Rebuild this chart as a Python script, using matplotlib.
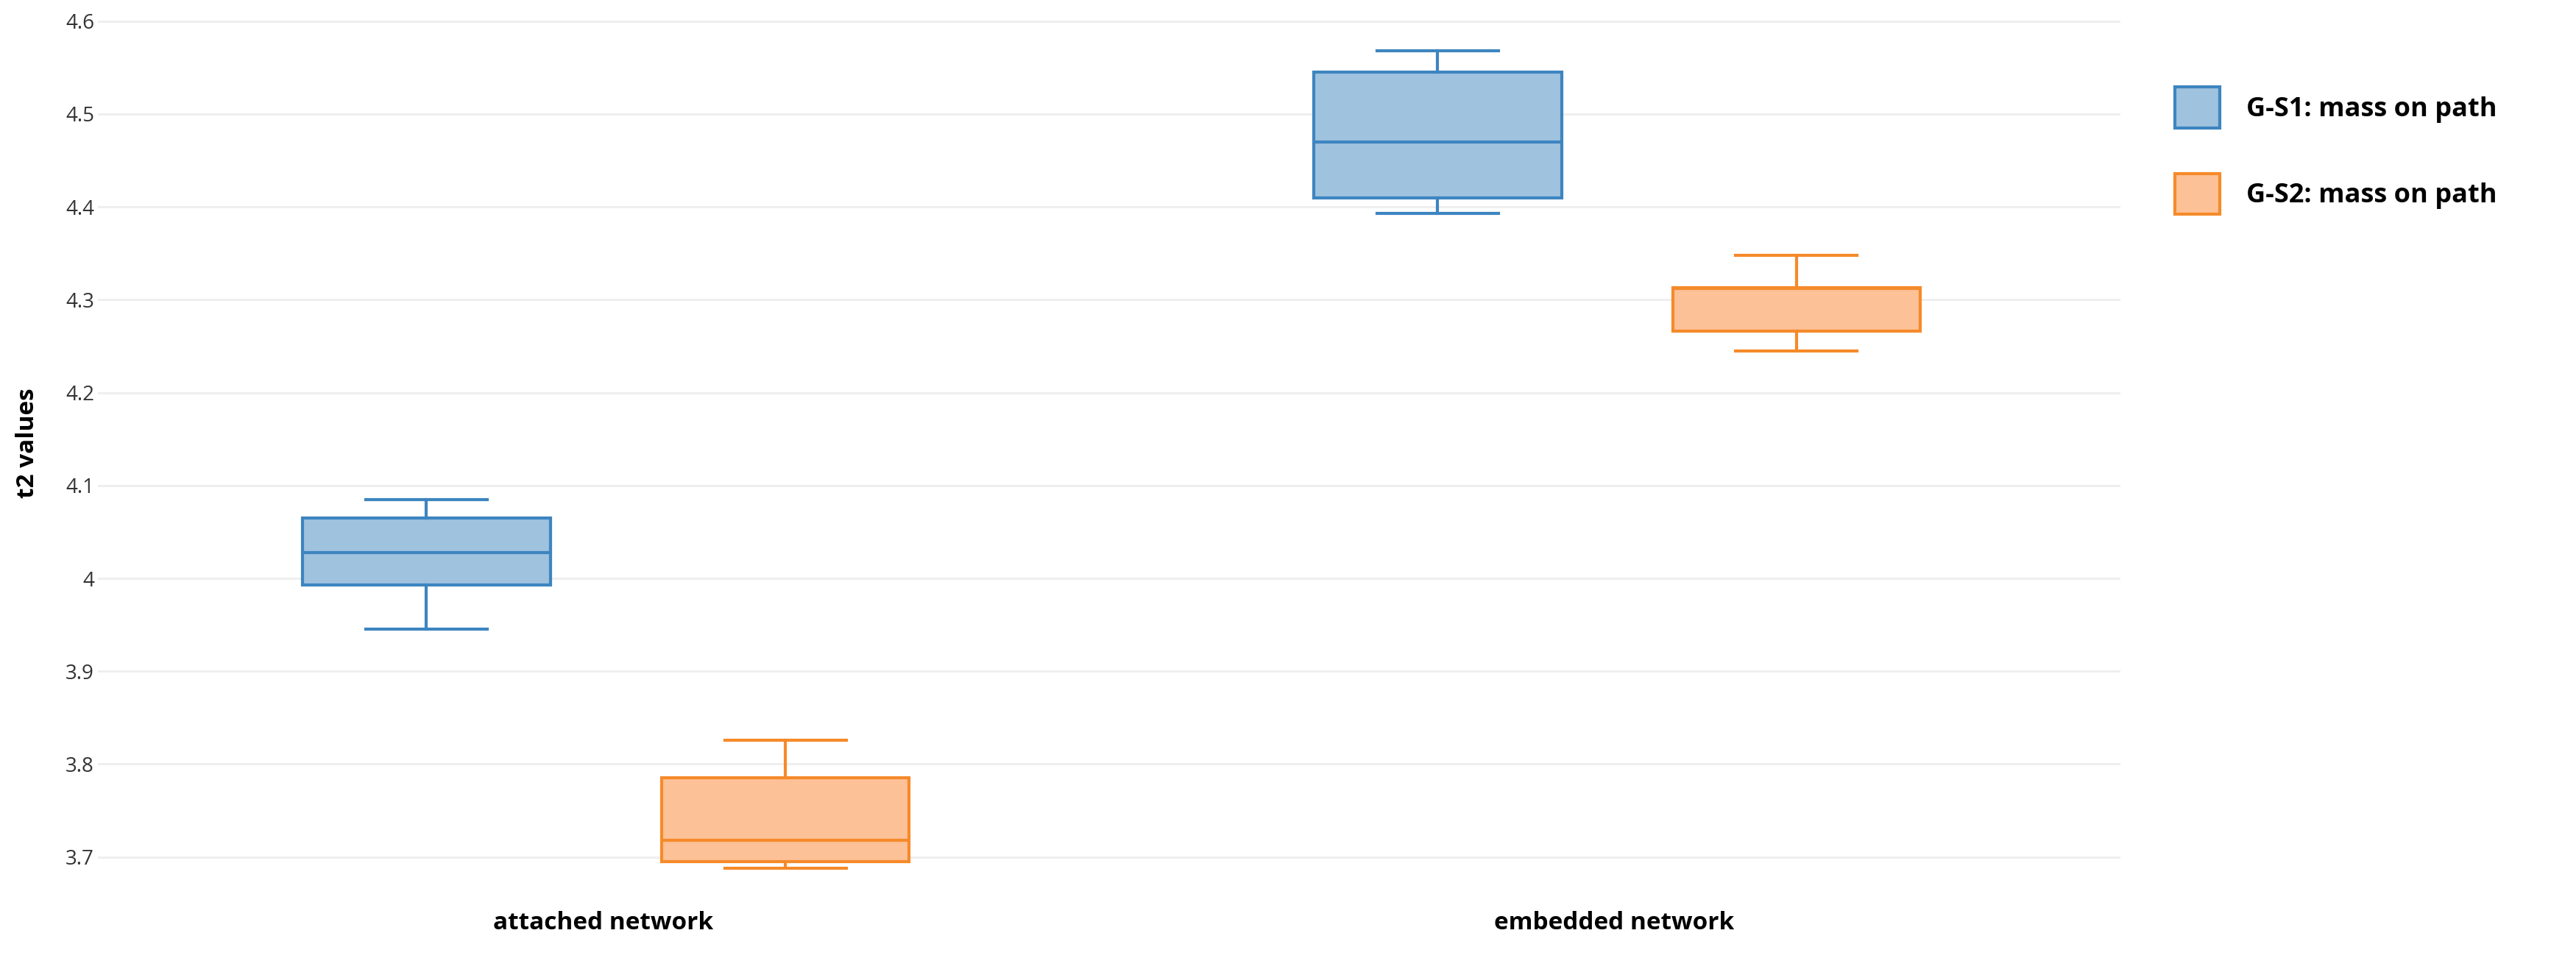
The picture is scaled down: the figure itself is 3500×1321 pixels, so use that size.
import matplotlib.pyplot as plt
from matplotlib.patches import Patch

plt.rcParams['font.family'] = ['Open Sans', 'DejaVu Sans']

categories = ["attached network", "embedded network"]
series = ["G-S1: mass on path", "G-S2: mass on path"]
# whislo, q1, med, q3, whishi per category
gs1_stats = [(3.945, 3.993, 4.028, 4.065, 4.085), (4.393, 4.410, 4.470, 4.545, 4.568)]
gs2_stats = [(3.688, 3.695, 3.718, 3.785, 3.826), (4.245, 4.266, 4.312, 4.313, 4.348)]
edge_colors = ["#3d85c0", "#f58a2a"]
fill_colors = ["#9fc2de", "#fdc197"]

fig = plt.figure(figsize=(35, 13.21), dpi=100)
ax = fig.add_axes([0.038, 0.105, 0.785, 0.878])

offsets = [-0.175, 0.18]
for k, stats in enumerate([gs1_stats, gs2_stats]):
    bxp = []
    for s in stats:
        bxp.append(dict(whislo=s[0], q1=s[1], med=s[2], q3=s[3], whishi=s[4], fliers=[]))
    pos = [i + offsets[k] for i in range(len(categories))]
    ax.bxp(bxp, positions=pos, widths=0.245, patch_artist=True, showfliers=False,
           boxprops=dict(facecolor=fill_colors[k], edgecolor=edge_colors[k], linewidth=3),
           medianprops=dict(color=edge_colors[k], linewidth=3),
           whiskerprops=dict(color=edge_colors[k], linewidth=3),
           capprops=dict(color=edge_colors[k], linewidth=3),
           capwidths=0.12)

ax.set_xlim(-0.5, 1.5)
ax.set_ylim(3.686, 4.605)
ax.set_xticks(range(len(categories)))
ax.set_xticklabels(categories, fontsize=24, fontweight='bold')
yt = [3.7, 3.8, 3.9, 4.0, 4.1, 4.2, 4.3, 4.4, 4.5, 4.6]
ax.set_yticks(yt)
ax.set_yticklabels(["3.7", "3.8", "3.9", "4", "4.1", "4.2", "4.3", "4.4", "4.5", "4.6"], fontsize=20, color="#333333")
ax.set_ylabel("t2 values", fontsize=24, fontweight='bold', labelpad=25)
ax.tick_params(axis='both', length=0)
ax.tick_params(axis='x', pad=40)
ax.grid(axis='y', color='#eeeeee', linewidth=2)
ax.set_axisbelow(True)
for sp in ax.spines.values():
    sp.set_visible(False)

handles = [Patch(facecolor=fill_colors[i], edgecolor=edge_colors[i], linewidth=3, label=series[i])
           for i in range(2)]
fig.legend(handles=handles, loc='upper left', bbox_to_anchor=(0.835, 0.935), frameon=False,
           prop=dict(size=26, weight='bold'), handlelength=1.7, handleheight=2.0,
           labelspacing=1.7, handletextpad=1.0)

fig.savefig("out.png", dpi=100, facecolor='white')
